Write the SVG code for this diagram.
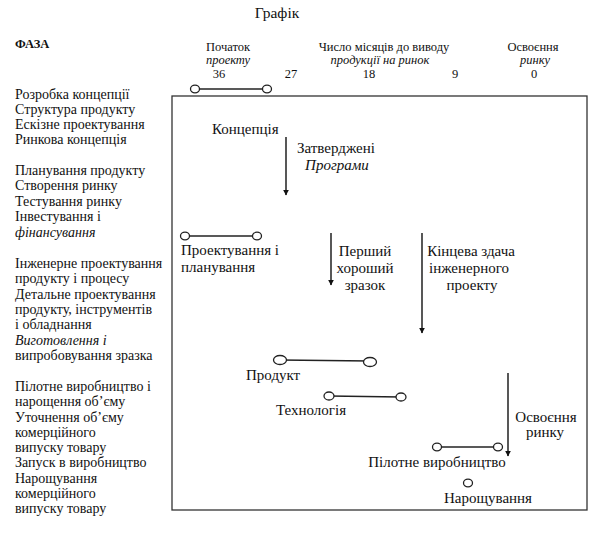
<svg xmlns="http://www.w3.org/2000/svg" width="600" height="540" viewBox="0 0 600 540">
<defs>
<style>
text{fill:#111;}
.t{font-size:15.5px;}
.h{font-size:12.5px;}
.l{font-size:14px;}
.b{font-size:15px;}
.c{text-anchor:middle;}
.i{font-style:italic;}
.bar{stroke:#222;stroke-width:1.3;fill:none;}
.dot{stroke:#222;stroke-width:1.3;fill:#fff;}
.arr{stroke:#111;stroke-width:1.4;fill:none;marker-end:url(#ah);}
.frame{stroke:#333;stroke-width:1.3;fill:none;}
</style>
<marker id="ah" viewBox="0 0 10 10" refX="9" refY="5" markerWidth="6" markerHeight="7" markerUnits="userSpaceOnUse" orient="auto"><path d="M0,0 L10,5 L0,10 z" fill="#111"/></marker>
</defs>
<rect width="600" height="540" fill="#fff"/>
<g font-family="'Liberation Serif', 'DejaVu Serif', serif">
<text class="t c" x="277" y="18">Графік</text>
<text class="h" x="15" y="48" font-weight="bold">ФАЗА</text>
<g id="header">
<text class="h c" x="228" y="51">Початок</text>
<text class="h c i" x="228" y="64">проекту</text>
<text class="h c" x="384" y="51">Число місяців до виводу</text>
<text class="h c i" x="380" y="64">продукції на ринок</text>
<text class="h c" x="533" y="51">Освоєння</text>
<text class="h c i" x="535" y="64">ринку</text>
<text class="h c" x="219" y="78">36</text>
<text class="h c" x="291" y="78">27</text>
<text class="h c" x="369" y="78">18</text>
<text class="h c" x="455" y="78">9</text>
<text class="h c" x="534" y="78">0</text>
</g>
<g id="legend-bar">
<line class="bar" x1="195" y1="89" x2="267" y2="89"/>
<ellipse class="dot" cx="195" cy="89" rx="4.5" ry="3.8"/>
<ellipse class="dot" cx="267" cy="89" rx="4.5" ry="3.8"/>
</g>
<g id="phases">
<text class="l" x="15" y="99">Розробка концепції</text>
<text class="l" x="15" y="114">Структура продукту</text>
<text class="l" x="15" y="129">Ескізне проектування</text>
<text class="l" x="15" y="144">Ринкова концепція</text>
<text class="l" x="15" y="175">Планування продукту</text>
<text class="l" x="15" y="190">Створення ринку</text>
<text class="l" x="15" y="206">Тестування ринку</text>
<text class="l" x="15" y="221">Інвестування і</text>
<text class="l i" x="15" y="237">фінансування</text>
<text class="l" x="15" y="268">Інженерне проектування</text>
<text class="l" x="15" y="283">продукту і  процесу</text>
<text class="l" x="15" y="299">Детальне проектування</text>
<text class="l" x="15" y="314">продукту, інструментів</text>
<text class="l" x="15" y="329">і обладнання</text>
<text class="l i" x="15" y="345">Виготовлення і</text>
<text class="l" x="15" y="360">випробовування  зразка</text>
<text class="l" x="15" y="391">Пілотне виробництво  і</text>
<text class="l" x="15" y="406">нарощення об’єму</text>
<text class="l" x="15" y="422">Уточнення об’єму</text>
<text class="l" x="15" y="437">комерційного</text>
<text class="l" x="15" y="452">випуску товару</text>
<text class="l" x="15" y="467">Запуск в виробництво</text>
<text class="l" x="15" y="483">Нарощування</text>
<text class="l" x="15" y="498">комерційного</text>
<text class="l" x="15" y="513">випуску товару</text>
</g>
<rect class="frame" x="172" y="96" width="415" height="414"/>
<g id="connectors">
<line class="arr" x1="286" y1="137" x2="286" y2="195"/>
<line class="arr" x1="331" y1="233" x2="331" y2="285"/>
<line class="arr" x1="422" y1="233" x2="422" y2="333"/>
<line class="arr" x1="508" y1="373" x2="508" y2="456"/>
</g>
<g id="concept">
<text class="b" x="212" y="134">Концепція</text>
</g>
<g id="approved">
<text class="b c" x="336" y="153">Затверджені</text>
<text class="b c i" x="337" y="170">Програми</text>
</g>
<g id="design">
<line class="bar" x1="185" y1="236" x2="257" y2="236"/>
<ellipse class="dot" cx="185" cy="236" rx="4.5" ry="3.8"/>
<ellipse class="dot" cx="257" cy="236" rx="4.5" ry="3.8"/>
<text class="b" x="181" y="255">Проектування і</text>
<text class="b" x="181" y="272">планування</text>
</g>
<g id="first-sample">
<text class="b c" x="365" y="256">Перший</text>
<text class="b c" x="365" y="273">хороший</text>
<text class="b c" x="365" y="290">зразок</text>
</g>
<g id="final-release">
<text class="b c" x="471" y="256">Кінцева здача</text>
<text class="b c" x="469" y="273">інженерного</text>
<text class="b c" x="472" y="290">проекту</text>
</g>
<g id="product">
<line class="bar" x1="280" y1="360" x2="370" y2="361"/>
<ellipse class="dot" cx="280" cy="360" rx="6.5" ry="4.5"/>
<ellipse class="dot" cx="370" cy="362" rx="6.5" ry="4.5"/>
<text class="b" x="246" y="380">Продукт</text>
</g>
<g id="technology">
<line class="bar" x1="329" y1="396" x2="401" y2="397"/>
<ellipse class="dot" cx="329" cy="396" rx="5" ry="4"/>
<ellipse class="dot" cx="401" cy="397" rx="5" ry="4"/>
<text class="b c" x="311" y="415">Технологія</text>
</g>
<g id="market">
<text class="b c" x="546" y="422">Освоєння</text>
<text class="b c" x="545" y="437">ринку</text>
</g>
<g id="pilot">
<line class="bar" x1="437" y1="447" x2="498" y2="447"/>
<ellipse class="dot" cx="437" cy="447" rx="4.5" ry="3.8"/>
<ellipse class="dot" cx="498" cy="447" rx="4.5" ry="3.8"/>
<text class="b c" x="437" y="467">Пілотне виробництво</text>
</g>
<g id="rampup">
<ellipse class="dot" cx="468" cy="483" rx="4.5" ry="3.8"/>
<text class="b c" x="488" y="503">Нарощування</text>
</g>
</g>
</svg>
